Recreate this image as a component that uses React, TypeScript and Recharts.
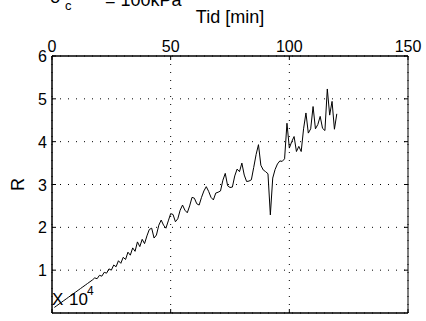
import React from 'react'
import { LineChart, Line, XAxis, YAxis, CartesianGrid, ReferenceLine, Customized } from 'recharts'

// sample times [min]
const minutes = [
  1, 2, 3, 4, 5, 6, 7, 8, 9, 10, 11, 12, 13, 14, 15, 16, 17, 18, 19, 20,
  21, 22, 23, 24, 25, 26, 27, 28, 29, 30, 31, 32, 33, 34, 35, 36, 37, 38, 39, 40,
  41, 42, 43, 44, 45, 46, 47, 48, 49, 50, 51, 52, 53, 54, 55, 56, 57, 58, 59, 60,
  61, 62, 63, 64, 65, 66, 67, 68, 69, 70, 71, 72, 73, 74, 75, 76, 77, 78, 79, 80,
  81, 82, 83, 84, 85, 86, 87, 88, 89, 90, 91, 92, 93, 94, 95, 96, 97, 98, 99, 100,
  101, 102, 103, 104, 105, 106, 107, 108, 109, 110, 111, 112, 113, 114, 115, 116, 117, 118, 119, 120,
]

// R
const rValues = [
  0.13, 0.17, 0.21, 0.25, 0.29, 0.33, 0.37, 0.41, 0.45, 0.49,
  0.53, 0.57, 0.61, 0.65, 0.69, 0.73, 0.77, 0.82, 0.8, 0.88,
  0.86, 0.95, 0.93, 1.03, 1.0, 1.12, 1.08, 1.22, 1.16, 1.3,
  1.25, 1.42, 1.35, 1.52, 1.44, 1.66, 1.55, 1.72, 1.62, 1.8,
  1.95, 1.98, 1.75, 1.82, 2.05, 2.17, 2.05, 1.98, 2.15, 2.32,
  2.3, 2.13, 2.2, 2.4, 2.52, 2.4, 2.34, 2.5, 2.7, 2.68,
  2.55, 2.52, 2.7, 2.85, 2.95, 2.84, 2.7, 2.64, 2.8, 2.82,
  2.85, 3.1, 3.26, 2.97, 2.93, 2.94, 3.2, 3.36, 3.3, 3.5,
  3.22, 3.07, 3.08, 3.11, 3.4, 3.7, 3.93, 3.45, 3.34, 3.3,
  3.25, 2.29, 3.15, 3.35, 3.48, 3.55, 3.54, 3.6, 4.43, 3.85,
  4.0, 4.12, 3.77, 3.89, 3.77, 4.3, 4.67, 4.2, 4.3, 4.82,
  4.3, 4.4, 4.59, 4.31, 4.26, 5.23, 4.62, 4.94, 4.29, 4.65,
]

const xTicks = [0, 50, 100, 150]
const yTicks = [0, 1, 2, 3, 4, 5, 6]

const data = minutes.map((t, i) => ({ t, r: rValues[i] }))

const FONT = "'Liberation Sans', Arial, Helvetica, sans-serif"
const TOP = 56
const BOTTOM = 313
const LEFT = 52
const RIGHT = 408

const TopTick = (props: any) => {
  const { x, payload } = props
  return (
    <g>
      <line x1={x} x2={x} y1={TOP} y2={TOP + 4} stroke="#000" />
      <line x1={x} x2={x} y1={BOTTOM} y2={BOTTOM - 4} stroke="#000" />
      <text x={x} y={TOP - 4} textAnchor="middle" fontSize={16} fontFamily={FONT} fill="#000">
        {payload.value}
      </text>
    </g>
  )
}

const LeftTick = (props: any) => {
  const { y, payload } = props
  return (
    <g>
      <line x1={LEFT} x2={LEFT + 4} y1={y} y2={y} stroke="#000" />
      <line x1={RIGHT} x2={RIGHT - 4} y1={y} y2={y} stroke="#000" />
      <text x={LEFT - 5} y={y + 6} textAnchor="end" fontSize={16} fontFamily={FONT} fill="#000">
        {payload.value}
      </text>
    </g>
  )
}

const Annotations = () => (
  <g fontFamily={FONT} fill="#000">
    <text x={230} y={23} textAnchor="middle" fontSize={18}>Tid [min]</text>
    <text transform="translate(24,184.5) rotate(-90)" textAnchor="middle" fontSize={18}>R</text>
    <text x={52} y={305} fontSize={17}>X</text>
    <text x={69} y={305} fontSize={17}>10</text>
    <text x={87} y={295} fontSize={12}>4</text>
    <text x={50} y={3} fontSize={18}>σ</text>
    <text x={65} y={10} fontSize={13}>c</text>
    <text x={105} y={6} fontSize={18}>= 100kPa</text>
  </g>
)

const App: React.FC = () => {
  return (
    <div style={{ position: 'absolute', left: 0, top: 0, background: '#fff' }}>
      <LineChart
        width={426}
        height={321}
        data={data}
        margin={{ top: 26, right: 18, bottom: 8, left: 2 }}
      >
        <CartesianGrid stroke="#000" strokeDasharray="1 7" />
        <XAxis
          dataKey="t"
          type="number"
          orientation="top"
          domain={[0, 150]}
          ticks={xTicks}
          height={30}
          tick={TopTick}
          tickLine={false}
          axisLine={{ stroke: '#000', strokeWidth: 1.5 }}
        />
        <YAxis
          type="number"
          domain={[0, 6]}
          ticks={yTicks}
          width={50}
          tick={LeftTick}
          tickLine={false}
          axisLine={{ stroke: '#000', strokeWidth: 1.5 }}
        />
        <ReferenceLine x={150} stroke="#000" />
        <ReferenceLine y={0} stroke="#000" strokeWidth={1.5} />
        <Line
          type="linear"
          dataKey="r"
          stroke="#000"
          strokeWidth={1}
          dot={false}
          isAnimationActive={false}
        />
        <Customized component={Annotations} />
      </LineChart>
    </div>
  )
}

export default App
